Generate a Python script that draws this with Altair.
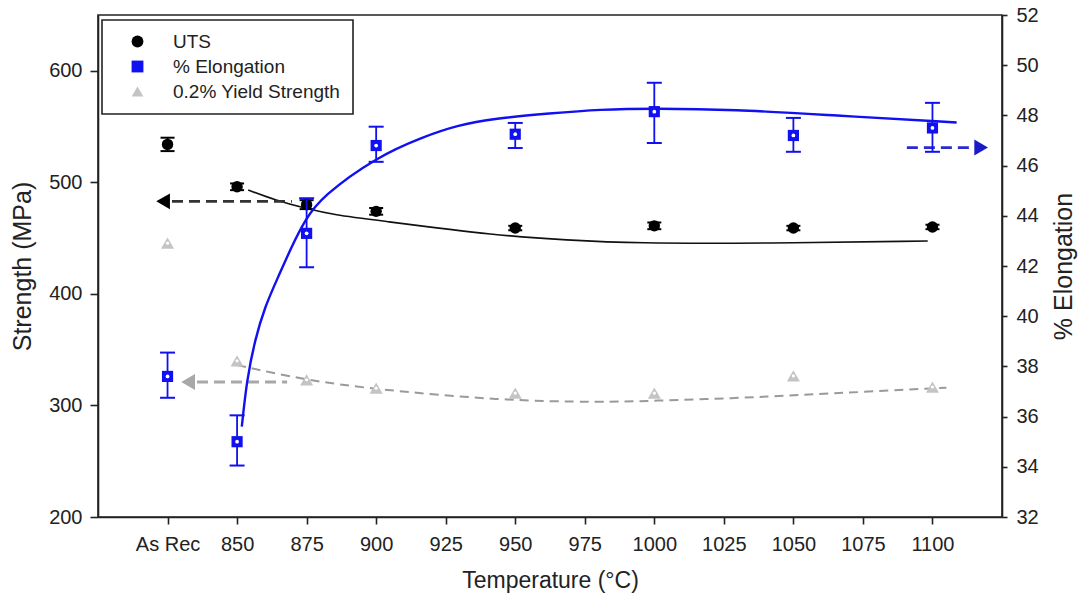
import altair as alt
import pandas as pd

FONT = "Liberation Sans"
INK = "#222222"
BLUE = "#1010f0"
GRAY_PT = "#c4c4c4"
GRAY_LINE = "#9a9a9a"

SERIES = ["UTS", "% Elongation", "0.2% Yield Strength"]

# Measured points ("As Rec" is plotted at 825)
temps = [825, 850, 875, 900, 950, 1000, 1050, 1100]
uts = [534, 496, 480, 474, 459, 461, 459, 460]
uts_err = [6, 3, 4, 3, 2, 3, 2, 2]
elong = [37.6, 35.0, 43.3, 46.8, 47.25, 48.15, 47.2, 47.5]
elong_lo = [36.75, 34.05, 41.95, 46.15, 46.7, 46.9, 46.55, 46.55]
elong_hi = [38.55, 36.05, 44.7, 47.55, 47.7, 49.3, 47.9, 48.5]
yield_str = [445.5, 340, 323, 315.5, 311, 311, 326.5, 316.5]

# Fitted trend curves
elong_fit_t = [851.7, 853.5, 856.4, 860, 864.8, 869.6, 874.4, 880.4, 900.2,
               916.8, 929, 942.5, 962.5, 980.5, 999.7, 1028.4, 1064.3, 1108.7]
elong_fit_v = [35.6, 37.46, 39.05, 40.38, 41.57, 42.77, 43.83, 44.76, 46.35,
               47.14, 47.6, 47.88, 48.08, 48.24, 48.28, 48.24, 48.0, 47.72]
uts_fit_t = [854, 863.6, 874.4, 885.2, 899.6, 944.5, 968.5, 992.5, 1040.4, 1098.3]
uts_fit_v = [493.1, 484.2, 476.7, 470.7, 466.2, 452.0, 448.3, 445.3, 445.3, 447.4]
ys_fit_t = [850, 874.4, 899.6, 944.5, 980.5, 999.6, 1028.4, 1052.4, 1076.3, 1105]
ys_fit_v = [336.2, 322.8, 314.5, 304.5, 302.8, 304.2, 306.4, 309.4, 312.3, 315.9]

# Axis-pointer arrows: dashed shaft from x0 to x1, arrow head at `head`, level y
arrow_uts = dict(x0=826.6, x1=869.7, head=823.4, y=483)
arrow_ys = dict(x0=835.6, x1=868.0, head=832.4, y=321)
arrow_el = dict(x0=1090.8, x1=1114.6, head=1117.5, y=46.72)

x_ticks = [825, 850, 875, 900, 925, 950, 975, 1000, 1025, 1050, 1075, 1100]

pts = pd.DataFrame({
    "t": temps, "uts": uts, "uts_lo": [u - e for u, e in zip(uts, uts_err)],
    "uts_hi": [u + e for u, e in zip(uts, uts_err)],
    "el": elong, "el_lo": elong_lo, "el_hi": elong_hi, "ys": yield_str,
})
pts["s_uts"] = SERIES[0]
pts["s_el"] = SERIES[1]
pts["s_ys"] = SERIES[2]

el_fit = pd.DataFrame({"t": elong_fit_t, "v": elong_fit_v})
uts_fit = pd.DataFrame({"t": uts_fit_t, "v": uts_fit_v})
ys_fit = pd.DataFrame({"t": ys_fit_t, "v": ys_fit_v})

x_scale = alt.Scale(domain=[800, 1125], nice=False, zero=False)
x_axis = alt.Axis(values=x_ticks, format="d",
                  labelExpr="datum.value == 825 ? 'As Rec' : datum.label",
                  title="Temperature (°C)", grid=False, tickSize=7,
                  labelPadding=10, titlePadding=15, titleFontSize=23)


def X(field):
    return alt.X(field, type="quantitative", scale=x_scale, axis=x_axis)


left_scale = alt.Scale(domain=[200, 650], nice=False, zero=False)
left_axis = alt.Axis(values=[200, 300, 400, 500, 600], title="Strength (MPa)",
                     grid=False, tickSize=8, labelPadding=8,
                     titleFontSize=25, orient="left", titleAngle=270,
                     titleX=-76, titleY=251, titleAlign="center",
                     titleBaseline="middle")
right_scale = alt.Scale(domain=[32, 52], nice=False, zero=False)
right_axis = alt.Axis(values=list(range(32, 53, 2)), title="% Elongation",
                      grid=False, tickSize=5, labelPadding=9,
                      titleFontSize=25, orient="right", titleAngle=270,
                      titleX=61, titleY=251, titleAlign="center",
                      titleBaseline="middle")


def YL(field):
    return alt.Y(field, type="quantitative", scale=left_scale, axis=left_axis)


def YR(field):
    return alt.Y(field, type="quantitative", scale=right_scale, axis=right_axis)


legend = alt.Legend(title=None, orient="none", legendX=4, legendY=5,
                    fillColor="white", strokeColor=INK, padding=12,
                    labelFontSize=19, labelFont=FONT, labelColor=INK,
                    labelLimit=400, symbolSize=140, symbolStrokeWidth=0,
                    labelOffset=26, symbolOffset=14, rowPadding=5)
color_enc = alt.Color("series:N", scale=alt.Scale(domain=SERIES,
                      range=["#000000", BLUE, GRAY_PT]), legend=legend)
shape_enc = alt.Shape("series:N", scale=alt.Scale(domain=SERIES,
                      range=["circle", "square", "triangle-up"]), legend=legend)

base = alt.Chart(pts)


def arrow(spec, y_enc, shaft_color, head_color, shape):
    d = pd.DataFrame([spec])
    shaft = alt.Chart(d).mark_rule(color=shaft_color, strokeWidth=2.8,
                                   strokeDash=[11, 6]).encode(
        x=X("x0"), x2="x1", y=y_enc("y"))
    head = alt.Chart(d).mark_point(color=head_color, filled=True, size=250,
                                   opacity=1, shape=shape).encode(
        x=X("head"), y=y_enc("y"))
    return [shaft, head]


# ---- left-axis group: strength ----
uts_line = alt.Chart(uts_fit).mark_line(color="#111111", strokeWidth=1.6,
                                        interpolate="basis").encode(x=X("t"), y=YL("v"))
ys_line = alt.Chart(ys_fit).mark_line(color=GRAY_LINE, strokeWidth=2,
                                      strokeDash=[9, 6], interpolate="basis").encode(
    x=X("t"), y=YL("v"))
uts_bar = base.mark_rule(color="#000000", strokeWidth=1.8).encode(
    x=X("t"), y=YL("uts_lo"), y2="uts_hi")
uts_cap_lo = base.mark_tick(color="#000000", orient="horizontal", size=14,
                            thickness=2, opacity=1).encode(x=X("t"), y=YL("uts_lo"))
uts_cap_hi = base.mark_tick(color="#000000", orient="horizontal", size=14,
                            thickness=2, opacity=1).encode(x=X("t"), y=YL("uts_hi"))
uts_pts = base.transform_calculate(series="datum.s_uts").mark_point(
    filled=True, size=130, opacity=1).encode(x=X("t"), y=YL("uts"),
                                             color=color_enc, shape=shape_enc)
ys_pts = base.transform_calculate(series="datum.s_ys").mark_point(
    filled=True, size=170, opacity=1).encode(x=X("t"), y=YL("ys"),
                                             color=color_enc, shape=shape_enc)
ys_dots = base.mark_point(filled=True, size=10, color="white", opacity=1,
                          shape="circle").encode(x=X("t"), y=YL("ys"))

left = alt.layer(ys_line, uts_line,
                 *arrow(arrow_uts, YL, "#333333", "#000000", "triangle-left"),
                 *arrow(arrow_ys, YL, "#a8a8a8", "#a8a8a8", "triangle-left"),
                 uts_bar, uts_cap_lo, uts_cap_hi, ys_pts, ys_dots, uts_pts)

# ---- right-axis group: elongation ----
el_line = alt.Chart(el_fit).mark_line(color=BLUE, strokeWidth=2.4,
                                      interpolate="basis").encode(x=X("t"), y=YR("v"))
el_bar = base.mark_rule(color=BLUE, strokeWidth=1.8).encode(
    x=X("t"), y=YR("el_lo"), y2="el_hi")
el_cap_lo = base.mark_tick(color=BLUE, orient="horizontal", size=15, thickness=2,
                           opacity=1).encode(x=X("t"), y=YR("el_lo"))
el_cap_hi = base.mark_tick(color=BLUE, orient="horizontal", size=15, thickness=2,
                           opacity=1).encode(x=X("t"), y=YR("el_hi"))
el_pts = base.transform_calculate(series="datum.s_el").mark_point(
    filled=True, size=125, opacity=1).encode(x=X("t"), y=YR("el"),
                                             color=color_enc, shape=shape_enc)
el_dots = base.mark_point(filled=True, size=14, color="white", opacity=1,
                          shape="circle").encode(x=X("t"), y=YR("el"))

right = alt.layer(el_line,
                  *arrow(arrow_el, YR, "#2a2ad0", "#1a1ac8", "triangle-right"),
                  el_bar, el_cap_lo, el_cap_hi, el_pts, el_dots)

chart = alt.layer(left, right).resolve_scale(
    y="independent"
).properties(
    width=904, height=502,
    autosize=alt.AutoSizeParams(type="none"),
    padding={"left": 98, "top": 15, "right": 81, "bottom": 86},
    background="white",
).configure_view(
    stroke=INK, strokeWidth=1.6
).configure_axis(
    labelFont=FONT, titleFont=FONT, labelFontSize=20, labelColor=INK,
    titleColor=INK, titleFontWeight="normal", domainColor=INK, domainWidth=1.6,
    tickColor=INK, tickWidth=1.6
).configure_legend(
    strokeWidth=1.6
)

chart.save("out.html", embed_options={"renderer": "svg", "actions": False})
